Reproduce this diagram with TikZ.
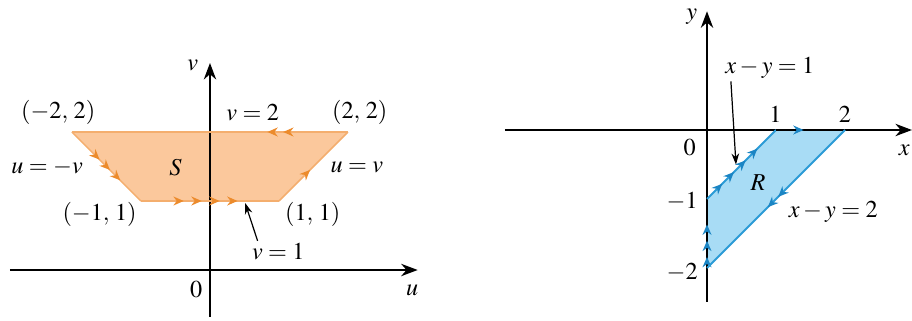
\documentclass[tikz,border=0pt]{standalone}
\usepackage{mathptmx}
\usepackage{fontspec}
\setmainfont{Liberation Serif}
\usetikzlibrary{arrows.meta, decorations.markings}
\definecolor{sfill}{HTML}{FBC89C}
\definecolor{sline}{HTML}{F4AE6E}
\definecolor{sarr}{HTML}{EC8B2C}
\definecolor{rfill}{HTML}{A8DCF5}
\definecolor{rline}{HTML}{2B9BD6}
\definecolor{rarr}{HTML}{1B85C4}
\tikzset{
  axis/.style={-{Stealth[length=2.4mm, width=1.8mm]}, line width=0.6pt},
  lbl/.style={inner sep=1pt, font=\normalsize},
  ptr/.style={-{Stealth[length=1.6mm, width=1.1mm]}, line width=0.5pt},
  sedge/.style={draw=sline, line width=0.6pt},
  redge/.style={draw=rline, line width=0.8pt},
  onaxis/.style={draw=black, line width=0.6pt},
  marks/.style n args={4}{postaction={decorate, decoration={markings,
      mark=between positions #1 and #2 step #3 with {\arrow{Stealth[length=1.5mm, width=1.3mm, color=#4]}}}}}
}
\begin{document}
\begin{tikzpicture}
\useasboundingbox (-3.043,-0.725) rectangle (10.174,3.913);
% region S in the uv-plane
\fill[sfill] (-2,2) -- (-1,1) -- (1,1) -- (2,2) -- cycle;
\draw[axis] (-2.9,0) -- (3.01,0);
\draw[axis] (0,-0.68) -- (0,3.0);
\draw[sedge, marks={0.4}{0.71}{0.15}{sarr}] (-2,2) -- (-1,1);
\draw[sedge, marks={0.31}{0.71}{0.13}{sarr}] (-1,1) -- (1,1);
\draw[sedge, marks={0.45}{0.45}{1}{sarr}] (1,1) -- (2,2);
\draw[sedge, marks={0.235}{0.30}{0.057}{sarr}] (2,2) -- (-2,2);
\node[lbl] (vlab) at (-0.25,2.97) {$v$};
\node[lbl] (ulab) at (2.93,-0.29) {$u$};
\node[lbl] (o1) at (-0.2,-0.29) {$0$};
\node[lbl] (pa) at (-2.2,2.28) {$(-2,\,2)$};
\node[lbl] (pb) at (2.17,2.28) {$(2,\,2)$};
\node[lbl] (pc) at (-1.6,0.8) {$(-1,\,1)$};
\node[lbl] (pd) at (1.49,0.8) {$(1,\,1)$};
\node[lbl] (v2) at (0.62,2.28) {$v=2$};
\node[lbl] (um) at (-2.36,1.48) {$u=-v$};
\node[lbl] (up) at (2.13,1.48) {$u=v$};
\node[lbl] (slab) at (-0.5,1.48) {$S$};
\node[lbl] (v1) at (0.99,0.26) {$v=1$};
\coordinate (tipS) at (0.51,0.97);
\draw[ptr] ([xshift=3.5pt]v1.north west) -- (tipS);
% region R in the xy-plane
\begin{scope}[shift={(7.203,2.029)}]
\fill[rfill] (0,-1) -- (1,0) -- (2,0) -- (0,-2) -- cycle;
\draw[axis] (-2.93,0) -- (2.97,0);
\draw[axis] (0,-2.49) -- (0,1.72);
\draw[onaxis, marks={0.16}{0.64}{0.235}{rarr}] (0,-2) -- (0,-1);
\draw[redge, marks={0.22}{0.74}{0.17}{rarr}] (0,-1) -- (1,0);
\draw[onaxis, marks={0.4}{0.4}{1}{rarr}] (1,0) -- (2,0);
\draw[redge, marks={0.485}{0.57}{0.075}{rarr}] (2,0) -- (0,-2);
\node[lbl] (ylab) at (-0.22,1.64) {$y$};
\node[lbl] (xlab) at (2.86,-0.29) {$x$};
\node[lbl] (o2) at (-0.25,-0.26) {$0$};
\node[lbl] (one) at (0.99,0.22) {$1$};
\node[lbl] (two) at (2.0,0.22) {$2$};
\node[lbl] (mone) at (-0.36,-1.04) {$-1$};
\node[lbl] (mtwo) at (-0.36,-2.06) {$-2$};
\node[lbl] (rlab) at (0.74,-0.77) {$R$};
\node[lbl] (l1) at (0.91,0.9) {$x-y=1$};
\node[lbl] (l2) at (1.83,-1.19) {$x-y=2$};
\coordinate (tipR) at (0.42,-0.5);
\draw[ptr] ([xshift=3.5pt]l1.south west) -- (tipR);
\end{scope}
\end{tikzpicture}
\end{document}
